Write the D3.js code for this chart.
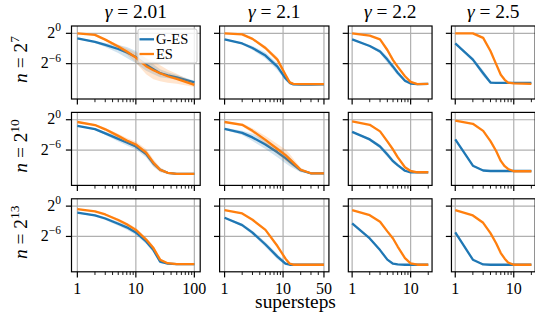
<!DOCTYPE html>
<html>
<head>
<meta charset="utf-8">
<script src="https://cdn.jsdelivr.net/npm/d3@7"></script>
<style>
body { margin: 0; background: #fff; }
</style>
</head>
<body>
<script>
// columns / rows
var gammas = ["2.01", "2.1", "2.2", "2.5"];
var nExps = ["7", "10", "13"];
var colMax = [100, 50, 20, 20];
var majorTicks = [[1, 10, 100], [1, 10, 50], [1, 10], [1, 10]];
var minorTicks = [
  [2, 3, 4, 5, 6, 7, 8, 9, 20, 30, 40, 50, 60, 70, 80, 90],
  [2, 3, 4, 5, 6, 7, 8, 9, 20, 30, 40],
  [2, 3, 4, 5, 6, 7, 8, 9, 20],
  [2, 3, 4, 5, 6, 7, 8, 9, 20]
];
var yTicks = [0, -6];   // log2 of the error

// supersteps sampled per column
var steps = [
  [1, 2, 3, 5, 7, 10, 15, 20, 26, 35, 50, 100],
  [1, 2, 3, 5, 8, 11, 13, 15, 20, 30, 50],
  [1, 2, 3, 4, 5, 6, 8, 10, 13, 20],
  [1, 2, 3, 4, 5, 6, 7, 8, 10, 20]
];

// log2 error, row-major (n = 2^7, 2^10, 2^13) x (gamma columns)
var gesLog2 = [
  [-1, -1.7, -2.3, -3.1, -3.8, -4.7, -6.2, -7.1, -7.9, -8.3, -8.7, -9.7],
  [-1.2, -2.0, -2.9, -4.4, -6.6, -8.9, -9.8, -10.1, -10.15, -10.15, -10.1],
  [-1.2, -2.5, -3.6, -5.2, -6.6, -7.8, -9.4, -9.95, -10.05, -10.0],
  [-2, -5.2, -7.9, -9.75, -9.8, -9.8, -9.8, -9.8, -9.8, -9.8],
  [-1.2, -1.85, -2.7, -3.8, -4.5, -5.3, -6.8, -8.7, -9.9, -10.5, -10.7, -10.7],
  [-1.8, -2.6, -3.5, -4.9, -6.45, -7.6, -8.3, -8.9, -10.0, -10.6, -10.6],
  [-2.4, -3.9, -5.3, -6.9, -8.2, -9.0, -10.1, -10.4, -10.4, -10.4],
  [-3.9, -9.1, -10.05, -10.15, -10.15, -10.15, -10.15, -10.15, -10.15, -10.15],
  [-1.3, -1.85, -2.45, -3.5, -4.2, -5.2, -7.0, -8.7, -11.0, -11.4, -11.5, -11.5],
  [-2.3, -3.75, -5.25, -7.6, -10.0, -11.4, -11.6, -11.6, -11.6, -11.6, -11.6],
  [-3.4, -6.4, -8.7, -10.6, -11.4, -11.55, -11.6, -11.6, -11.6, -11.6],
  [-5.2, -10.6, -11.55, -11.6, -11.6, -11.6, -11.6, -11.6, -11.6, -11.6]
];
var esLog2 = [
  [0, -0.3, -1.25, -2.6, -3.6, -4.8, -6.5, -7.3, -7.9, -8.5, -9.0, -10.2],
  [0, -0.2, -1.1, -2.9, -5.2, -8.2, -9.7, -10.0, -10.05, -10.05, -10.05],
  [0, -0.45, -1.2, -3.3, -5.3, -6.6, -8.5, -9.6, -10.05, -10.0],
  [0, 0, -0.9, -3.5, -6.1, -8.2, -9.2, -9.75, -9.9, -10.0],
  [-0.45, -1.05, -1.9, -3.2, -4.1, -4.9, -6.5, -8.5, -9.9, -10.5, -10.7, -10.7],
  [-0.45, -1.0, -2.2, -4.0, -5.8, -7.0, -7.8, -8.5, -9.9, -10.6, -10.6],
  [-0.33, -1.0, -2.3, -4.3, -5.9, -7.4, -9.4, -10.15, -10.4, -10.4],
  [-0.2, -0.8, -2.2, -4.25, -6.2, -8.15, -9.2, -9.75, -10.2, -10.2],
  [-0.6, -1.05, -1.65, -2.75, -3.6, -4.7, -6.6, -8.3, -10.6, -11.3, -11.5, -11.5],
  [-0.8, -1.45, -2.7, -4.7, -7.9, -10.4, -11.4, -11.6, -11.6, -11.6, -11.6],
  [-0.8, -1.8, -3.1, -5.0, -6.4, -8.0, -10.3, -11.35, -11.6, -11.6],
  [-0.8, -1.85, -3.3, -5.35, -7.35, -9.3, -10.4, -11.15, -11.6, -11.6]
];
// half width of the shaded spread, log2 units
var gesSpread = [
  [0.1, 0.2, 0.4, 0.8, 1.1, 1.2, 1.2, 1.0, 0.8, 0.6, 0.5, 0.3],
  [0.1, 0.2, 0.4, 0.6, 0.7, 0.5, 0.3, 0.2, 0.1, 0.1, 0.1],
  [0.1, 0.2, 0.4, 0.6, 0.6, 0.5, 0.3, 0.2, 0.1, 0.1],
  [0.1, 0.4, 0.6, 0.3, 0.1, 0.1, 0.1, 0.1, 0.1, 0.1],
  [0.1, 0.2, 0.3, 0.5, 0.6, 0.6, 0.7, 0.6, 0.4, 0.2, 0.1, 0.1],
  [0.2, 0.4, 0.7, 0.9, 1.0, 1.0, 0.9, 0.7, 0.4, 0.1, 0.1],
  [0.1, 0.3, 0.4, 0.5, 0.4, 0.3, 0.2, 0.1, 0.1, 0.1],
  [0.1, 0.2, 0.1, 0.1, 0.1, 0.1, 0.1, 0.1, 0.1, 0.1],
  [0.1, 0.2, 0.3, 0.4, 0.5, 0.5, 0.5, 0.5, 0.3, 0.1, 0.1, 0.1],
  [0.1, 0.3, 0.4, 0.5, 0.5, 0.3, 0.1, 0.1, 0.1, 0.1, 0.1],
  [0.1, 0.2, 0.2, 0.2, 0.1, 0.1, 0.1, 0.1, 0.1, 0.1],
  [0.1, 0.1, 0.1, 0.1, 0.1, 0.1, 0.1, 0.1, 0.1, 0.1]
];
var esSpread = [
  [0.05, 0.1, 0.2, 0.4, 0.6, 1.0, 1.6, 1.8, 1.6, 1.3, 1.0, 0.4],
  [0.05, 0.1, 0.2, 0.4, 0.5, 0.4, 0.2, 0.1, 0.1, 0.1, 0.1],
  [0.05, 0.1, 0.2, 0.4, 0.4, 0.3, 0.2, 0.1, 0.1, 0.1],
  [0.05, 0.05, 0.2, 0.3, 0.3, 0.2, 0.1, 0.1, 0.1, 0.1],
  [0.1, 0.2, 0.3, 0.4, 0.5, 0.6, 0.7, 0.7, 0.5, 0.2, 0.1, 0.1],
  [0.1, 0.3, 0.5, 0.8, 1.0, 1.1, 1.0, 0.8, 0.4, 0.1, 0.1],
  [0.05, 0.1, 0.2, 0.3, 0.3, 0.3, 0.2, 0.1, 0.1, 0.1],
  [0.05, 0.1, 0.1, 0.2, 0.2, 0.2, 0.1, 0.1, 0.1, 0.1],
  [0.1, 0.1, 0.2, 0.3, 0.3, 0.4, 0.4, 0.4, 0.3, 0.1, 0.1, 0.1],
  [0.05, 0.1, 0.1, 0.2, 0.2, 0.2, 0.1, 0.1, 0.1, 0.1, 0.1],
  [0.05, 0.1, 0.1, 0.1, 0.1, 0.1, 0.1, 0.1, 0.1, 0.1],
  [0.05, 0.1, 0.1, 0.1, 0.1, 0.1, 0.1, 0.1, 0.1, 0.1]
];
var seriesNames = ["G-ES", "ES"];
var colors = ["#1f77b4", "#ff7f0e"];

var width = 535, height = 320;
var decadePx = 58.5, gapPx = 19.4, left0 = 71.5;
var rowTop = [26, 112.4, 198.8], rowH = 73;
var majorLen = 5.6, minorLen = 3.2;
var serif = "'Liberation Serif', serif";

var svg = d3.select("body").append("svg")
    .attr("width", width)
    .attr("height", height)
    .style("font-family", serif);

var y = d3.scaleLog().base(2)
    .domain([Math.pow(2, -13), Math.pow(2, 1.45)])
    .range([rowH, 0]);

// column scales
var xs = [];
var left = left0;
colMax.forEach(function(m) {
  var pad = 0.05 * Math.log10(m);
  var w = 1.1 * Math.log10(m) * decadePx;
  xs.push({ left: left, w: w,
    scale: d3.scaleLog().domain([Math.pow(10, -pad), m * Math.pow(10, pad)]).range([0, w]) });
  left += w + gapPx;
});

var line = function(x) {
  return d3.line().x(function(d) { return x(d.s); }).y(function(d) { return y(Math.pow(2, d.v)); });
};
var area = function(x) {
  return d3.area().x(function(d) { return x(d.s); })
    .y0(function(d) { return y(Math.pow(2, d.v - d.sp)); })
    .y1(function(d) { return y(Math.pow(2, d.v + d.sp)); });
};

for (var r = 0; r < 3; r++) {
  for (var c = 0; c < 4; c++) {
    var k = r * 4 + c;
    var x = xs[c].scale;
    var g = svg.append("g")
        .attr("transform", "translate(" + xs[c].left + "," + rowTop[r] + ")");

    g.append("clipPath").attr("id", "clip" + k)
      .append("rect").attr("width", xs[c].w).attr("height", rowH);

    // grid
    g.selectAll(".gx").data(majorTicks[c]).enter().append("line")
      .attr("x1", function(d) { return x(d); }).attr("x2", function(d) { return x(d); })
      .attr("y1", 0).attr("y2", rowH)
      .attr("stroke", "#b0b0b0").attr("stroke-width", 1.2);
    g.selectAll(".gy").data(yTicks).enter().append("line")
      .attr("x1", 0).attr("x2", xs[c].w)
      .attr("y1", function(d) { return y(Math.pow(2, d)); })
      .attr("y2", function(d) { return y(Math.pow(2, d)); })
      .attr("stroke", "#b0b0b0").attr("stroke-width", 1.2);

    var plot = g.append("g").attr("clip-path", "url(#clip" + k + ")");
    [gesLog2[k], esLog2[k]].forEach(function(vals, si) {
      var spread = si === 0 ? gesSpread[k] : esSpread[k];
      var pts = steps[c].map(function(s, i) { return { s: s, v: vals[i], sp: spread[i] }; });
      plot.append("path").datum(pts)
        .attr("d", area(x))
        .attr("fill", colors[si]).attr("fill-opacity", 0.2);
      plot.append("path").datum(pts)
        .attr("d", line(x))
        .attr("fill", "none")
        .attr("stroke", colors[si])
        .attr("stroke-width", 2.3)
        .attr("stroke-linejoin", "round");
    });

    // frame
    g.append("rect").attr("width", xs[c].w).attr("height", rowH)
      .attr("fill", "none").attr("stroke", "#000").attr("stroke-width", 1.2);

    // x ticks
    g.selectAll(".xt").data(majorTicks[c]).enter().append("line")
      .attr("x1", function(d) { return x(d); }).attr("x2", function(d) { return x(d); })
      .attr("y1", rowH).attr("y2", rowH + majorLen)
      .attr("stroke", "#000").attr("stroke-width", 1.2);
    g.selectAll(".xm").data(minorTicks[c]).enter().append("line")
      .attr("x1", function(d) { return x(d); }).attr("x2", function(d) { return x(d); })
      .attr("y1", rowH).attr("y2", rowH + minorLen)
      .attr("stroke", "#000").attr("stroke-width", 0.9);
    // y ticks
    g.selectAll(".yt").data(yTicks).enter().append("line")
      .attr("x1", -majorLen).attr("x2", 0)
      .attr("y1", function(d) { return y(Math.pow(2, d)); })
      .attr("y2", function(d) { return y(Math.pow(2, d)); })
      .attr("stroke", "#000").attr("stroke-width", 1.2);

    if (r === 2) {
      g.selectAll(".xl").data(majorTicks[c]).enter().append("text")
        .attr("x", function(d) { return x(d); })
        .attr("y", rowH + 22)
        .attr("text-anchor", "middle")
        .style("font-family", serif)
        .style("font-size", "16px")
        .text(function(d) { return d; });
    }
    if (c === 0) {
      var yl = g.selectAll(".yl").data(yTicks).enter().append("text")
        .attr("x", -10.5)
        .attr("y", function(d) { return y(Math.pow(2, d)) + 4.5; })
        .attr("text-anchor", "end")
        .style("font-family", serif)
        .style("font-size", "16px");
      yl.append("tspan").text("2");
      yl.append("tspan").attr("dy", -6.5).style("font-size", "11.5px")
        .text(function(d) { return d < 0 ? "\u2212" + (-d) : d; });

      var lab = svg.append("text")
        .attr("transform", "translate(27," + (rowTop[r] + rowH / 2 - 3) + ") rotate(-90)")
        .attr("text-anchor", "middle")
        .style("font-family", serif)
        .style("font-size", "19.4px");
      lab.append("tspan").style("font-style", "italic").text("n");
      lab.append("tspan").text(" = 2");
      lab.append("tspan").attr("dy", -8).style("font-size", "13.5px").text(nExps[r]);
    }
    if (r === 0) {
      var t = svg.append("text")
        .attr("x", xs[c].left + xs[c].w / 2)
        .attr("y", 17.5)
        .attr("text-anchor", "middle")
        .style("font-family", serif)
        .style("font-size", "19.4px");
      t.append("tspan").style("font-style", "italic").text("\u03b3");
      t.append("tspan").text(" = " + gammas[c]);
    }
  }
}

// legend in the first panel
var leg = svg.append("g");
leg.append("rect")
  .attr("x", 138).attr("y", 29).attr("width", 59).attr("height", 34)
  .attr("rx", 2)
  .attr("fill", "#fff").attr("fill-opacity", 0.8)
  .attr("stroke", "#cccccc").attr("stroke-width", 1);
seriesNames.forEach(function(name, i) {
  var ly = 39.3 + i * 14.7;
  leg.append("line")
    .attr("x1", 139.5).attr("x2", 154).attr("y1", ly).attr("y2", ly)
    .attr("stroke", colors[i]).attr("stroke-width", 2.3);
  leg.append("text")
    .attr("x", 156).attr("y", ly + 5)
    .style("font-family", serif)
    .style("font-size", "14.5px")
    .text(name);
});

svg.append("text")
  .attr("x", 295.5).attr("y", 308)
  .attr("text-anchor", "middle")
  .style("font-family", serif)
  .style("font-size", "19.4px")
  .text("supersteps");
</script>
</body>
</html>
